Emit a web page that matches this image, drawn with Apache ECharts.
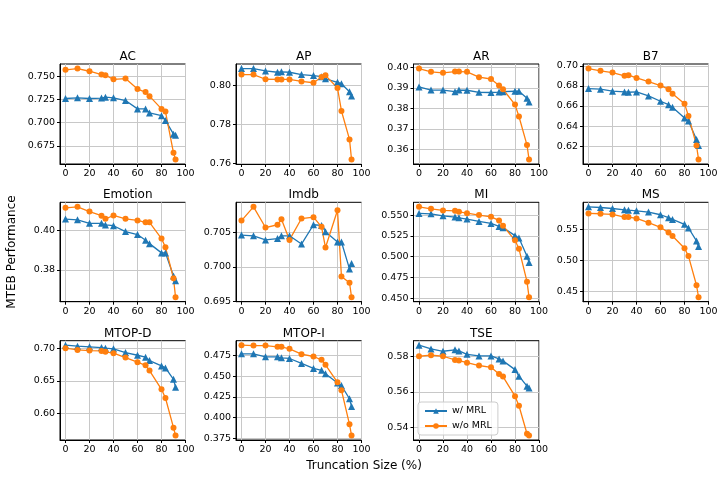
<!DOCTYPE html>
<html lang="en">
<head>
<meta charset="UTF-8">
<title>MTEB truncation</title>
<style>
    html, body { margin: 0; padding: 0; background: #fff; }
    #chart { width: 724px; height: 480px; }
</style>
</head>
<body>
<div id="chart"></div>
<script src="https://cdn.jsdelivr.net/npm/echarts@6/dist/echarts.min.js"></script>
<script>
    // truncation size (%) shared by every panel
    var truncation = [0, 10, 20, 30, 33.3, 40, 50, 60, 66.7, 70, 80, 83.3, 90, 91.7];
    var xTicks = [0, 20, 40, 60, 80, 100];

    var acWith     = [0.7261, 0.7268, 0.7261, 0.7265, 0.7275, 0.7268, 0.7239, 0.7149, 0.7149, 0.7105, 0.7076, 0.7025, 0.6877, 0.6866];
    var acWithout  = [0.7569, 0.7583, 0.7554, 0.7518, 0.7511, 0.7467, 0.7475, 0.7362, 0.7330, 0.7286, 0.7149, 0.7120, 0.6677, 0.6605];
    var apWith     = [0.8088, 0.8088, 0.8076, 0.8069, 0.8071, 0.8069, 0.8057, 0.8052, 0.8046, 0.8035, 0.8017, 0.8010, 0.7969, 0.7947];
    var apWithout  = [0.8057, 0.8057, 0.8033, 0.8032, 0.8032, 0.8032, 0.8022, 0.8015, 0.8045, 0.8053, 0.7988, 0.7870, 0.7724, 0.7621];
    var arWith     = [0.3905, 0.3890, 0.3890, 0.3882, 0.3890, 0.3889, 0.3879, 0.3878, 0.3880, 0.3882, 0.3884, 0.3884, 0.3850, 0.3832];
    var arWithout  = [0.3995, 0.3979, 0.3974, 0.3980, 0.3980, 0.3979, 0.3953, 0.3944, 0.3912, 0.3894, 0.3819, 0.3761, 0.3621, 0.3551];
    var b7With     = [0.6773, 0.6767, 0.6747, 0.6740, 0.6737, 0.6740, 0.6700, 0.6647, 0.6613, 0.6587, 0.6480, 0.6450, 0.6267, 0.6207];
    var b7Without  = [0.6973, 0.6950, 0.6933, 0.6900, 0.6907, 0.6880, 0.6843, 0.6803, 0.6767, 0.6723, 0.6623, 0.6500, 0.6207, 0.6067];
    var emoWith    = [0.4059, 0.4055, 0.4037, 0.4037, 0.4029, 0.4025, 0.3995, 0.3980, 0.3951, 0.3934, 0.3887, 0.3887, 0.3770, 0.3745];
    var emoWithout = [0.4116, 0.4121, 0.4097, 0.4076, 0.4060, 0.4077, 0.4060, 0.4052, 0.4042, 0.4042, 0.3960, 0.3916, 0.3758, 0.3662];
    var imdbWith   = [0.7046, 0.7045, 0.7039, 0.7041, 0.7045, 0.7045, 0.7033, 0.7061, 0.7060, 0.7051, 0.7036, 0.7036, 0.6997, 0.7005];
    var imdbWithout= [0.7067, 0.7087, 0.7057, 0.7061, 0.7069, 0.7039, 0.7070, 0.7072, 0.7058, 0.7028, 0.7082, 0.6986, 0.6977, 0.6956];
    var miWith     = [0.5520, 0.5516, 0.5492, 0.5476, 0.5468, 0.5452, 0.5424, 0.5400, 0.5364, 0.5349, 0.5253, 0.5225, 0.5006, 0.4930];
    var miWithout  = [0.5600, 0.5576, 0.5556, 0.5552, 0.5540, 0.5524, 0.5500, 0.5480, 0.5436, 0.5372, 0.5197, 0.5094, 0.4699, 0.4512];
    var msWith     = [0.5871, 0.5860, 0.5844, 0.5823, 0.5817, 0.5806, 0.5785, 0.5742, 0.5694, 0.5667, 0.5586, 0.5527, 0.5317, 0.5226];
    var msWithout  = [0.5763, 0.5758, 0.5747, 0.5704, 0.5704, 0.5683, 0.5613, 0.5538, 0.5452, 0.5398, 0.5199, 0.5070, 0.4597, 0.4403];
    var mtdWith    = [0.7046, 0.7031, 0.7021, 0.7010, 0.7000, 0.6990, 0.6933, 0.6892, 0.6862, 0.6810, 0.6728, 0.6698, 0.6523, 0.6400];
    var mtdWithout = [0.7000, 0.6974, 0.6964, 0.6959, 0.6944, 0.6923, 0.6856, 0.6785, 0.6738, 0.6656, 0.6369, 0.6236, 0.5780, 0.5660];
    var mtiWith    = [0.4770, 0.4770, 0.4734, 0.4734, 0.4722, 0.4714, 0.4654, 0.4594, 0.4571, 0.4531, 0.4419, 0.4387, 0.4228, 0.4136];
    var mtiWithout = [0.4874, 0.4870, 0.4870, 0.4854, 0.4854, 0.4830, 0.4766, 0.4738, 0.4698, 0.4638, 0.4427, 0.4331, 0.3920, 0.3785];
    var tseWith    = [0.5862, 0.5841, 0.5828, 0.5836, 0.5830, 0.5811, 0.5802, 0.5802, 0.5785, 0.5774, 0.5725, 0.5688, 0.5632, 0.5621];
    var tseWithout = [0.5800, 0.5806, 0.5800, 0.5779, 0.5776, 0.5764, 0.5748, 0.5738, 0.5701, 0.5686, 0.5576, 0.5522, 0.5365, 0.5355];

    // y tick labels of each panel
    var acTicks   = ['0.675', '0.700', '0.725', '0.750'];
    var apTicks   = ['0.76', '0.78', '0.80'];
    var arTicks   = ['0.36', '0.37', '0.38', '0.39', '0.40'];
    var b7Ticks   = ['0.62', '0.64', '0.66', '0.68', '0.70'];
    var emoTicks  = ['0.38', '0.40'];
    var imdbTicks = ['0.695', '0.700', '0.705'];
    var miTicks   = ['0.450', '0.475', '0.500', '0.525', '0.550'];
    var msTicks   = ['0.45', '0.50', '0.55'];
    var mtdTicks  = ['0.60', '0.65', '0.70'];
    var mtiTicks  = ['0.375', '0.400', '0.425', '0.450', '0.475'];
    var tseTicks  = ['0.54', '0.56', '0.58'];

    var panels = [
        ['AC', acWith, acWithout, acTicks],
        ['AP', apWith, apWithout, apTicks],
        ['AR', arWith, arWithout, arTicks],
        ['B7', b7With, b7Without, b7Ticks],
        ['Emotion', emoWith, emoWithout, emoTicks],
        ['Imdb', imdbWith, imdbWithout, imdbTicks],
        ['MI', miWith, miWithout, miTicks],
        ['MS', msWith, msWithout, msTicks],
        ['MTOP-D', mtdWith, mtdWithout, mtdTicks],
        ['MTOP-I', mtiWith, mtiWithout, mtiTicks],
        ['TSE', tseWith, tseWithout, tseTicks]
    ];

    var FONT = 'DejaVu Sans';
    var BLUE = '#1f77b4', ORANGE = '#ff7f0e';
    var colLeft = [60, 236, 413.5, 583];
    var rowTop = [64, 202.3, 340.7];
    var rowH = [100, 99.4, 99.3];
    var panelW = 125.5;

    var grids = [], xAxes = [], yAxes = [], series = [], titles = [];

    panels.forEach(function (p, i) {
        var row = Math.floor(i / 4), col = i % 4;
        var all = p[1].concat(p[2]);
        var lo = Math.min.apply(null, all), hi = Math.max.apply(null, all);
        var pad = (hi - lo) * 0.05;
        var yMin = lo - pad, yMax = hi + pad;
        var yVals = p[3].map(Number).filter(function (v) { return v >= yMin - 1e-9 && v <= yMax + 1e-9; });
        var decimals = p[3][0].length - 2;

        grids.push({
            left: colLeft[col], top: rowTop[row], width: panelW, height: rowH[row],
            show: true, borderColor: '#000', borderWidth: 1, backgroundColor: '#fff',
            containLabel: false, outerBoundsMode: 'none'
        });
        titles.push({
            text: p[0], left: colLeft[col] + panelW / 2, top: rowTop[row] - 18, textAlign: 'center',
            textStyle: { fontFamily: FONT, fontSize: 12, fontWeight: 'normal', color: '#000' }
        });
        xAxes.push({
            type: 'value', gridIndex: i, min: -4.585, max: 100,
            axisLine: { show: true, onZero: false, lineStyle: { color: '#000', width: 1 } },
            axisTick: { show: true, length: 3, lineStyle: { color: '#000' }, customValues: xTicks },
            axisLabel: { customValues: xTicks, fontFamily: FONT, fontSize: 9.5, color: '#000', margin: 5 },
            splitLine: { show: true, lineStyle: { color: '#c8c8c8', width: 1 } }
        });
        yAxes.push({
            type: 'value', gridIndex: i, min: yMin, max: yMax,
            axisLine: { show: true, onZero: false, lineStyle: { color: '#000', width: 1 } },
            axisTick: { show: true, length: 3, lineStyle: { color: '#000' }, customValues: yVals },
            axisLabel: {
                customValues: yVals, fontFamily: FONT, fontSize: 9.5, color: '#000', margin: 5,
                formatter: function (v) { return Number(v).toFixed(decimals); }
            },
            splitLine: { show: true, lineStyle: { color: '#c8c8c8', width: 1 } }
        });
        series.push({
            name: 'w/ MRL', type: 'line', xAxisIndex: i, yAxisIndex: i,
            data: truncation.map(function (x, k) { return [x, p[1][k]]; }),
            symbol: 'triangle', symbolSize: 7, showAllSymbol: true,
            lineStyle: { color: BLUE, width: 1.3 }, itemStyle: { color: BLUE }
        });
        series.push({
            name: 'w/o MRL', type: 'line', xAxisIndex: i, yAxisIndex: i,
            data: truncation.map(function (x, k) { return [x, p[2][k]]; }),
            symbol: 'circle', symbolSize: 6, showAllSymbol: true,
            lineStyle: { color: ORANGE, width: 1.3 }, itemStyle: { color: ORANGE }
        });
    });

    var myChart = echarts.init(document.getElementById('chart'), null, { renderer: 'canvas' });
    myChart.setOption({
        animation: false,
        backgroundColor: '#fff',
        title: titles,
        grid: grids,
        xAxis: xAxes,
        yAxis: yAxes,
        series: series,
        legend: {
            data: ['w/ MRL', 'w/o MRL'], orient: 'vertical', left: 418, top: 402,
            itemWidth: 22, itemHeight: 7, itemGap: 5, padding: [4, 6],
            borderColor: '#cccccc', borderWidth: 1, borderRadius: 3, backgroundColor: 'rgba(255,255,255,0.8)',
            textStyle: { fontFamily: FONT, fontSize: 9.5, color: '#000' }
        },
        graphic: [
            { type: 'text', x: 12, y: 252, rotation: Math.PI / 2,
              style: { text: 'MTEB Performance', fontFamily: FONT, fontSize: 12, fill: '#000', textAlign: 'center', textVerticalAlign: 'middle' } },
            { type: 'text', x: 364, y: 466,
              style: { text: 'Truncation Size (%)', fontFamily: FONT, fontSize: 12, fill: '#000', textAlign: 'center', textVerticalAlign: 'middle' } }
        ]
    });
</script>
</body>
</html>
